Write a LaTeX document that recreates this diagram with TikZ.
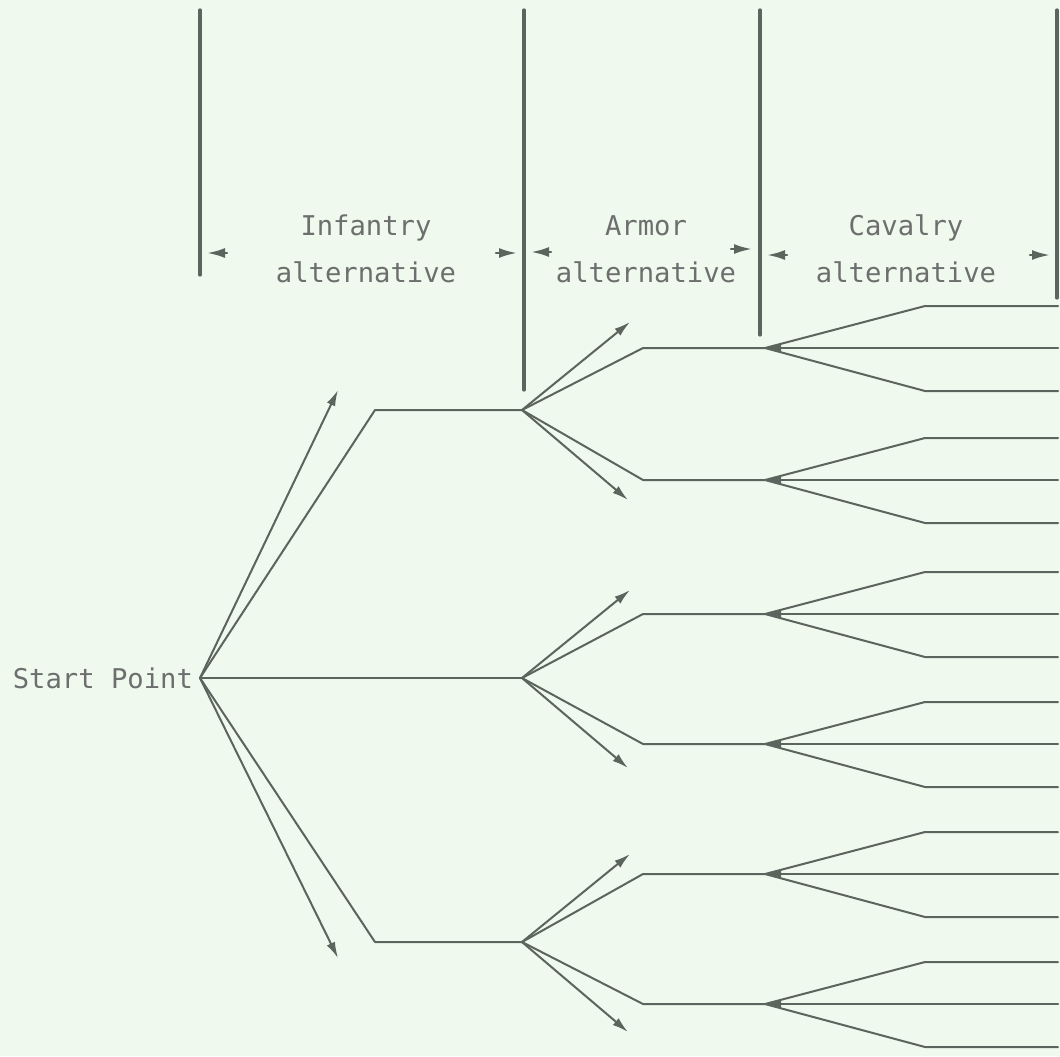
\documentclass[tikz,border=0pt]{standalone}
\usepackage{fontspec}
\setmonofont{DejaVu Sans Mono}
\usetikzlibrary{arrows.meta}
\definecolor{paper}{RGB}{240,249,238}
\definecolor{ink}{RGB}{92,100,94}
\definecolor{type}{RGB}{108,111,109}
\tikzset{
  branch/.style={ink, line width=1pt},
  bar/.style={ink, line width=1.6pt},
  dim/.style={ink, line width=1.2pt, -{Latex[length=9pt,width=5pt]}},
  label/.style={type, align=center, font=\ttfamily\fontsize{13.6}{23.5}\selectfont}
}
\begin{document}
\begin{tikzpicture}[x=0.5pt, y=-0.5pt, line cap=round, line join=round, >={Latex[length=8pt,width=4.5pt]}]
	\fill[paper] (0,0) rectangle (1060,1056);
	\useasboundingbox (0,0) rectangle (1060,1056);
	% column bars and headings
	\draw[bar] (200,10) -- (200,275);
	\draw[bar] (524,10) -- (524,390);
	\draw[bar] (760,10) -- (760,335);
	\draw[bar] (1057,10) -- (1057,298);
	\node[label] (inf) at (366,249) {Infantry\\alternative};
	\node[label] (arm) at (646,249) {Armor\\alternative};
	\node[label] (cav) at (906,249) {Cavalry\\alternative};
	\draw[dim] (227,253) -- (207,253);
	\draw[dim] (496,253) -- (517,253);
	\draw[dim] (551,252) -- (531,252);
	\draw[dim] (731,249) -- (752,249);
	\draw[dim] (787,255) -- (767,255);
	\draw[dim] (1030,255) -- (1050,255);
	% infantry
	\coordinate (s) at (200,678);
	\node[label, anchor=east] (start) at (s) {Start Point};
	\draw[branch] (s) -- (375,410) -- (522,410) coordinate (a1);
	\draw[branch] (s) -- (522,678) coordinate (a2);
	\draw[branch] (s) -- (375,942) -- (522,942) coordinate (a3);
	\draw[branch, ->] (s) -- (338,390);
	\draw[branch, ->] (s) -- (338,958);
	% armor
	\foreach \a/\u/\d/\p/\q in {a1/c1/c2/348/480, a2/c3/c4/614/744, a3/c5/c6/874/1004}{
		\draw[branch, ->] (\a) -- ++(108,-88);
		\draw[branch, ->] (\a) -- ++(106,90);
		\draw[branch] (\a) -- (643,\p) -- (765,\p) coordinate (\u);
		\draw[branch] (\a) -- (643,\q) -- (765,\q) coordinate (\d);
	}
	% cavalry
	\foreach \i in {1,...,6}{
		\draw[branch] (c\i) -- ++(160,-42) -- ++(133,0);
		\draw[branch, {Latex[length=8pt,width=4pt]}-] (c\i) -- ++(293,0);
		\draw[branch] (c\i) -- ++(160,43) -- ++(133,0);
	}
\end{tikzpicture}
\end{document}
